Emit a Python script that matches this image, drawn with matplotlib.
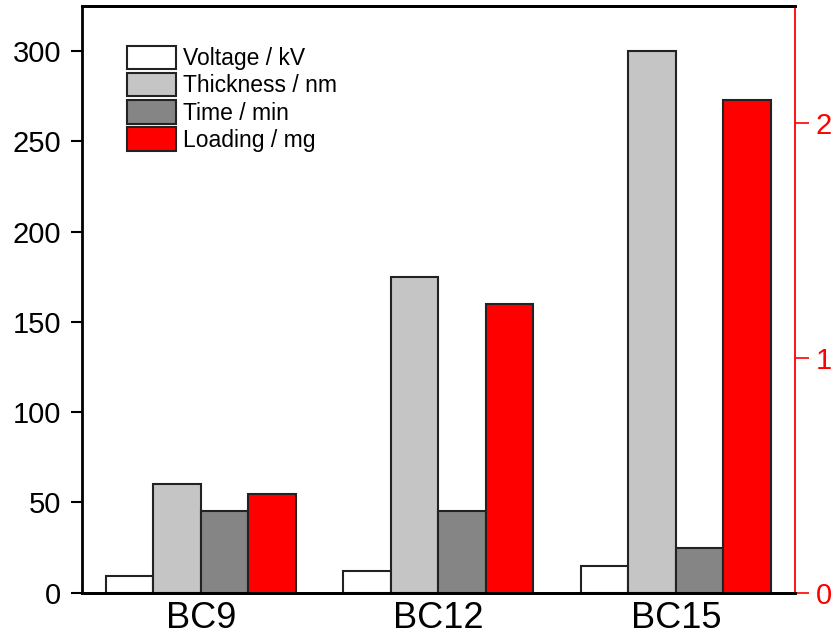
import numpy as np
import matplotlib.pyplot as plt
from matplotlib.patches import Patch

plt.rcParams['font.family'] = ['Liberation Sans', 'DejaVu Sans']

# data
samples = ['BC9', 'BC12', 'BC15']
voltage = [9, 12, 15]          # kV
thickness = [60, 175, 300]     # nm
time_min = [45, 45, 25]        # min
loading = [0.42, 1.23, 2.10]   # mg (right axis)

labels = ['Voltage / kV', 'Thickness / nm', 'Time / min', 'Loading / mg']
colors = ['#FFFFFF', '#C5C5C5', '#858585', '#FF0000']

fig = plt.figure(figsize=(8.33, 6.37), dpi=100)
ax = fig.add_axes([0.0984, 0.0695, 0.8556, 0.9215])
ax2 = ax.twinx()

x = np.arange(len(samples))
w = 0.2
edge = dict(edgecolor='#222222', linewidth=1.5)
ax.bar(x - 1.5 * w, voltage, w, color=colors[0], **edge)
ax.bar(x - 0.5 * w, thickness, w, color=colors[1], **edge)
ax.bar(x + 0.5 * w, time_min, w, color=colors[2], **edge)
ax2.bar(x + 1.5 * w, loading, w, color=colors[3], **edge)

ax.set_xlim(-0.5, 2.5)
ax.set_ylim(0, 325)
ax2.set_ylim(0, 2.5)
ax.set_yticks([0, 50, 100, 150, 200, 250, 300])
ax2.set_yticks([0, 1, 2])

ax.set_xticks(x)
ax.set_xticklabels(samples, fontsize=26)
ax.tick_params(axis='x', length=0, pad=6)
ax.tick_params(axis='y', labelsize=21, length=8, width=1.5, direction='out', pad=7)
ax2.tick_params(axis='y', labelsize=21, length=10, width=1.2, direction='out',
                colors='#FF0000', pad=5)

for s in ['left', 'bottom', 'top']:
    ax.spines[s].set_linewidth(2)
    ax2.spines[s].set_linewidth(2)
ax.spines['right'].set_visible(False)
ax2.spines['left'].set_visible(False)
ax2.spines['right'].set_color('#FF0000')
ax2.spines['right'].set_linewidth(1.3)

handles = [Patch(facecolor=c, edgecolor='#222222', linewidth=1.5) for c in colors]
ax2.legend(handles, labels, loc='upper left', bbox_to_anchor=(0.063, 0.932),
           frameon=False, fontsize=16.5, handlelength=2.15, handleheight=1.2,
           labelspacing=0.12, handletextpad=0.3, borderaxespad=0, borderpad=0)

fig.savefig('out.png', dpi=100)
